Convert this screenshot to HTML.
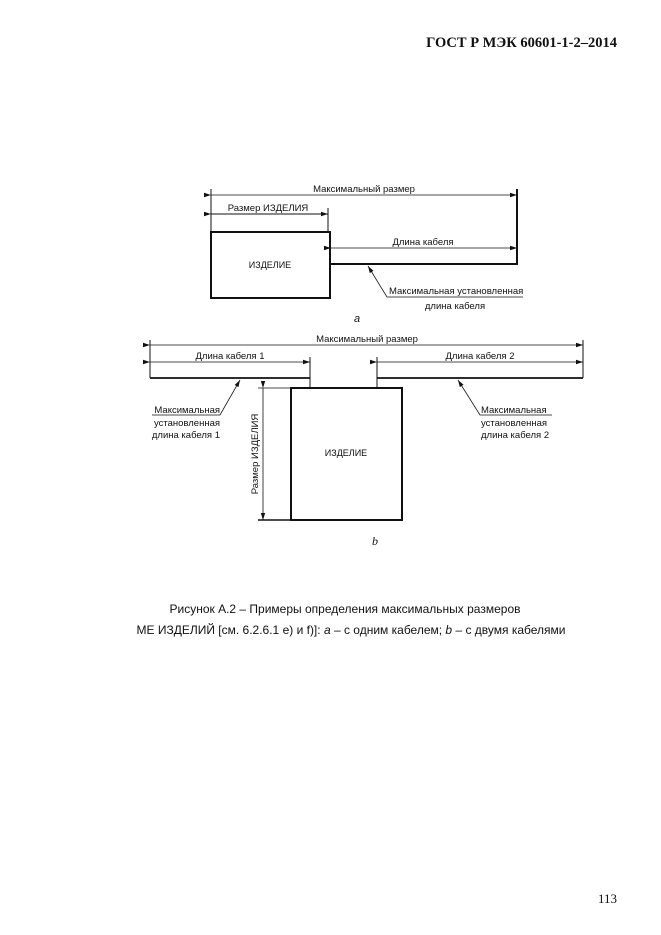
<!DOCTYPE html>
<html><head><meta charset="utf-8"><style>
html,body{margin:0;padding:0;background:#fff;}
svg{display:block;}
text{font-family:"Liberation Sans","DejaVu Sans",sans-serif;fill:#111;}
</style></head><body>
<svg width="661" height="935" viewBox="0 0 661 935" xmlns="http://www.w3.org/2000/svg">
<defs>
<marker id="ar" markerWidth="8" markerHeight="6" refX="7" refY="3" orient="auto" markerUnits="userSpaceOnUse">
<path d="M0,0.8 L7,3 L0,5.2 z" fill="#111"/></marker>
</defs>
<text x="617" y="47" text-anchor="end" style="font-family:'Liberation Serif',serif;font-weight:bold;font-size:14.5px">ГОСТ Р  МЭК 60601-1-2–2014</text>

<g stroke="#111" fill="none">
<!-- diagram a -->
<line x1="211" y1="189" x2="211" y2="232" stroke-width="1"/>
<line x1="517" y1="189" x2="517" y2="264" stroke-width="2"/>
<line x1="211" y1="195" x2="517" y2="195" stroke-width="0.8" marker-start="url(#ar)" marker-end="url(#ar)"/>
<line x1="328" y1="208" x2="328" y2="232" stroke-width="1"/>
<line x1="211" y1="214" x2="328" y2="214" stroke-width="1" marker-start="url(#ar)" marker-end="url(#ar)"/>
<rect x="211" y="232" width="119" height="66" stroke-width="2"/>
<line x1="330" y1="264" x2="518" y2="264" stroke-width="2"/>
<line x1="331" y1="248" x2="517" y2="248" stroke-width="0.8" marker-start="url(#ar)" marker-end="url(#ar)"/>
<polyline points="523,297 387,297 368,266" stroke-width="0.8" marker-end="url(#ar)"/>

<!-- diagram b -->
<line x1="150" y1="340" x2="150" y2="378" stroke-width="1"/>
<line x1="583" y1="340" x2="583" y2="378" stroke-width="1"/>
<line x1="150" y1="345" x2="583" y2="345" stroke-width="0.8" marker-start="url(#ar)" marker-end="url(#ar)"/>
<line x1="310" y1="357" x2="310" y2="388" stroke-width="1"/>
<line x1="377" y1="357" x2="377" y2="388" stroke-width="1"/>
<line x1="150" y1="362" x2="310" y2="362" stroke-width="0.8" marker-start="url(#ar)" marker-end="url(#ar)"/>
<line x1="377" y1="362" x2="583" y2="362" stroke-width="0.8" marker-start="url(#ar)" marker-end="url(#ar)"/>
<line x1="150" y1="378" x2="310" y2="378" stroke-width="1.8"/>
<line x1="377" y1="378" x2="583" y2="378" stroke-width="1.8"/>
<rect x="291" y="388" width="111" height="132" stroke-width="2"/>
<line x1="258" y1="388" x2="291" y2="388" stroke-width="0.8"/>
<line x1="258" y1="520" x2="291" y2="520" stroke-width="1.5"/>
<line x1="263" y1="388" x2="263" y2="520" stroke-width="0.8" marker-start="url(#ar)" marker-end="url(#ar)"/>
<polyline points="152,415 220,415 240,380" stroke-width="0.8" marker-end="url(#ar)"/>
<polyline points="552,415 480,415 458,380" stroke-width="0.8" marker-end="url(#ar)"/>
</g>

<g font-size="9.5px">
<text x="364" y="192" text-anchor="middle">Максимальный размер</text>
<text x="268" y="211" text-anchor="middle">Размер ИЗДЕЛИЯ</text>
<text x="270" y="268" text-anchor="middle" font-size="9px">ИЗДЕЛИЕ</text>
<text x="423" y="245" text-anchor="middle">Длина кабеля</text>
<text x="389" y="294">Максимальная установленная</text>
<text x="455" y="309" text-anchor="middle">длина кабеля</text>
<text x="357" y="322" text-anchor="middle" font-style="italic" font-size="11px">a</text>

<text x="367" y="342" text-anchor="middle">Максимальный размер</text>
<text x="230" y="359" text-anchor="middle">Длина кабеля 1</text>
<text x="480" y="359" text-anchor="middle">Длина кабеля 2</text>
<text x="220" y="413" text-anchor="end">Максимальная</text>
<text x="220" y="426" text-anchor="end">установленная</text>
<text x="220" y="438" text-anchor="end">длина кабеля 1</text>
<text x="481" y="413">Максимальная</text>
<text x="481" y="426">установленная</text>
<text x="481" y="438">длина кабеля 2</text>
<text x="346" y="456" text-anchor="middle" font-size="9px">ИЗДЕЛИЕ</text>
<text transform="translate(258,454) rotate(-90)" text-anchor="middle">Размер ИЗДЕЛИЯ</text>
<text x="375" y="545" text-anchor="middle" style="font-family:'Liberation Serif',serif;font-style:italic;font-size:12px">b</text>
</g>

<text x="345" y="613" text-anchor="middle" font-size="12px">Рисунок А.2 – Примеры определения максимальных размеров</text>
<text x="351" y="634" text-anchor="middle" font-size="12px">МЕ ИЗДЕЛИЙ [см. 6.2.6.1 е) и f)]: <tspan font-style="italic">a</tspan> – с одним кабелем; <tspan font-style="italic">b</tspan>  – с двумя  кабелями</text>

<text x="617" y="903" text-anchor="end" style="font-family:'Liberation Serif',serif;font-size:13px">113</text>
</svg>
</body></html>
